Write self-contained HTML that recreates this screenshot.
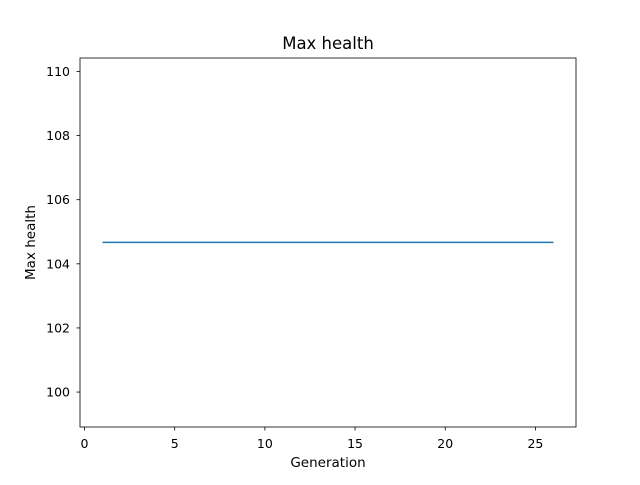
<!DOCTYPE html>
<html><head><meta charset="utf-8"><style>
body{margin:0;background:#fff;}
svg text{font-family:"DejaVu Sans","Liberation Sans",sans-serif;fill:#000;}
</style></head><body>
<svg id="chart" width="640" height="480" xmlns="http://www.w3.org/2000/svg">
<rect width="640" height="480" fill="#fff"/>
<text x="328" y="49" font-size="16.5" text-anchor="middle">Max health</text>
<text x="328" y="467" font-size="13.5" text-anchor="middle">Generation</text>
<text transform="translate(35,242.5) rotate(-90)" font-size="13.5" text-anchor="middle">Max health</text>
<g id="ticks"></g>
<g id="series"></g>
<rect x="80" y="58" width="496" height="369" fill="none" stroke="#000" stroke-width="0.8"/>
</svg>
<script>
const generations = [1,2,3,4,5,6,7,8,9,10,11,12,13,14,15,16,17,18,19,20,21,22,23,24,25,26];
const maxHealth = [104.67,104.67,104.67,104.67,104.67,104.67,104.67,104.67,104.67,104.67,104.67,104.67,104.67,104.67,104.67,104.67,104.67,104.67,104.67,104.67,104.67,104.67,104.67,104.67,104.67,104.67];
const xTicks = [0,5,10,15,20,25];
const yTicks = [100,102,104,106,108,110];
const NS="http://www.w3.org/2000/svg";
const L=80,R=576,T=58,B=427;
const xmin=-0.25,xmax=27.25,ymin=98.91,ymax=110.42;
const xs=v=>L+(v-xmin)/(xmax-xmin)*(R-L);
const ys=v=>B-(v-ymin)/(ymax-ymin)*(B-T);
const tg=document.getElementById('ticks');
function mk(tag,attrs){const e=document.createElementNS(NS,tag);for(const k in attrs)e.setAttribute(k,attrs[k]);return e;}
xTicks.forEach(v=>{
  const x=xs(v);
  const l=mk('line',{x1:x,x2:x,y1:B,y2:B+3.5,stroke:'#000','stroke-width':0.8});
  
  
  tg.appendChild(l);
  const t=mk('text',{x:x,y:B+21,'font-size':12.5,'text-anchor':'middle'});
  
  
  t.textContent=v;tg.appendChild(t);
});
yTicks.forEach(v=>{
  const y=ys(v);
  const l=mk('line',{x1:L-3.5,x2:L,y1:y,y2:y,stroke:'#000','stroke-width':0.8});
  
  
  tg.appendChild(l);
  const t=mk('text',{x:L-10,y:y+4.5,'font-size':12.5,'text-anchor':'end'});
  
  
  t.textContent=v;tg.appendChild(t);
});
const pts=generations.map((g,i)=>xs(g)+','+ys(maxHealth[i])).join(' ');
const pl=mk('polyline',{points:pts,fill:'none',stroke:'#1f77b4','stroke-width':1.5});


document.getElementById('series').appendChild(pl);
</script>
</body></html>
